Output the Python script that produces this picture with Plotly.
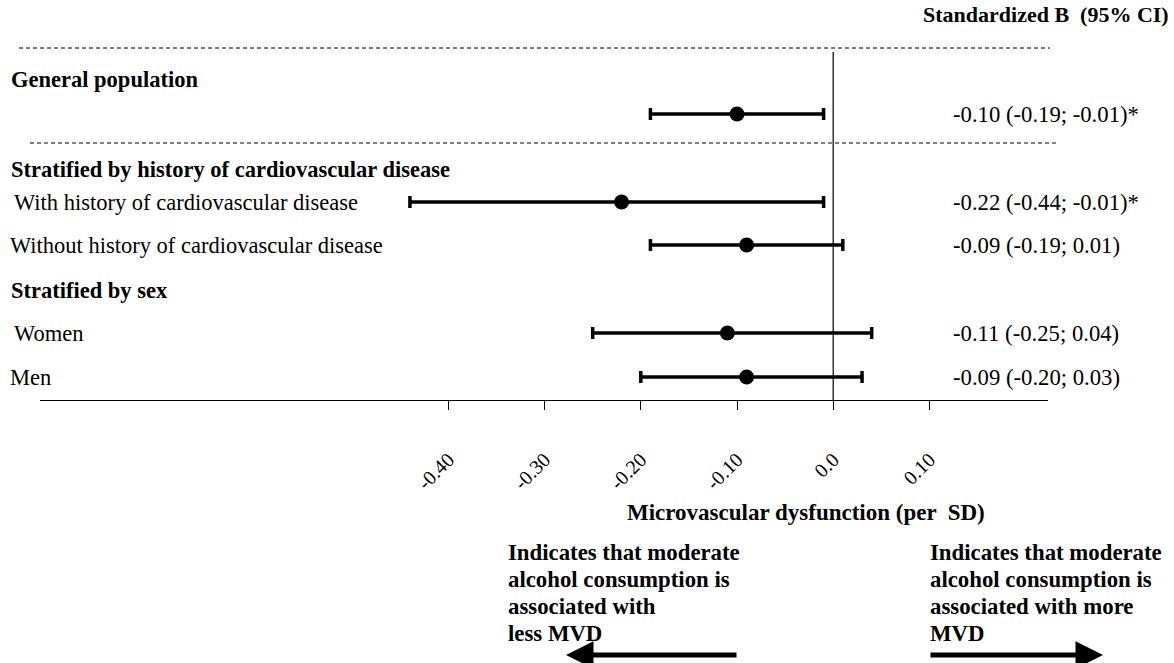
import plotly.graph_objects as go

# ---- data ----
row_labels = ["General population", "With history of cardiovascular disease",
              "Without history of cardiovascular disease", "Women", "Men"]
estimates = [-0.10, -0.22, -0.09, -0.11, -0.09]
ci_low = [-0.19, -0.44, -0.19, -0.25, -0.20]
ci_high = [-0.01, -0.01, 0.01, 0.04, 0.03]
ci_text = ["-0.10 (-0.19; -0.01)*", "-0.22 (-0.44; -0.01)*", "-0.09 (-0.19; 0.01)",
           "-0.11 (-0.25; 0.04)", "-0.09 (-0.20; 0.03)"]
row_pos = [114, 202, 245, 333, 377]          # vertical row positions (layout units)
row_label_x = [None, 12, 8, 12, 8]
headers = ["General population", "Stratified by history of cardiovascular disease", "Stratified by sex"]
header_pos = [80, 169, 290]
tick_vals = [-0.40, -0.30, -0.20, -0.10, 0.0, 0.10]
tick_text = ["-0.40", "-0.30", "-0.20", "-0.10", "0.0", "0.10"]
left_note = ["Indicates that moderate", "alcohol consumption is", "associated with", "less MVD"]
right_note = ["Indicates that moderate", "alcohol consumption is", "associated with more", "MVD"]

W, H = 1174, 663
L, R = 40, 1048          # plot area (pixels)
B = 400                  # axis line position (pixels)
PX_PER_UNIT = 962.0
ZERO_PX = 833.2
xmin = (L - ZERO_PX) / PX_PER_UNIT
xmax = (R - ZERO_PX) / PX_PER_UNIT
FONT = "Liberation Serif"


def px(xp):
    return (xp - L) / (R - L)


def py(yp):
    return (B - yp) / B


fig = go.Figure()
fig.add_trace(go.Scatter(
    x=estimates, y=row_pos, mode="markers",
    marker=dict(color="black", size=15),
    error_x=dict(type="data", symmetric=False,
                 array=[h - e for h, e in zip(ci_high, estimates)],
                 arrayminus=[e - l for l, e in zip(ci_low, estimates)],
                 color="black", thickness=3.5, width=6),
    showlegend=False, hoverinfo="skip", cliponaxis=False,
))

ann = []
ann.append(dict(text="<b>Standardized B  (95% CI)</b>", x=px(1171), y=py(15), xanchor="right",
                yanchor="middle", font=dict(size=22)))
for t, yy in zip(headers, header_pos):
    ann.append(dict(text="<b>%s</b>" % t, x=px(9), y=py(yy), xanchor="left", yanchor="middle",
                    font=dict(size=22.5)))
for lab, lx, yy in zip(row_labels, row_label_x, row_pos):
    if lx is None:
        continue
    ann.append(dict(text=lab, x=px(lx), y=py(yy), xanchor="left", yanchor="middle",
                    font=dict(size=22.5)))
for t, yy in zip(ci_text, row_pos):
    ann.append(dict(text=t, x=px(951), y=py(yy), xanchor="left", yanchor="middle",
                    font=dict(size=22.7)))
ann.append(dict(text="<b>Microvascular dysfunction (per  SD)</b>", x=px(806), y=py(512),
                xanchor="center", yanchor="middle", font=dict(size=23)))
note_y = [552, 579, 606, 633]
for t, yy in zip(left_note, note_y):
    ann.append(dict(text="<b>%s</b>" % t, x=px(506), y=py(yy), xanchor="left", yanchor="middle",
                    font=dict(size=22.8)))
for t, yy in zip(right_note, note_y):
    ann.append(dict(text="<b>%s</b>" % t, x=px(928), y=py(yy), xanchor="left", yanchor="middle",
                    font=dict(size=22.8)))
# arrows
ann.append(dict(text="", x=px(566), y=py(655), ax=172, ay=0, axref="pixel", ayref="pixel",
                showarrow=True, arrowhead=2, arrowwidth=5, arrowsize=1.1, arrowcolor="black"))
ann.append(dict(text="", x=px(1103), y=py(655), ax=-174, ay=0, axref="pixel", ayref="pixel",
                showarrow=True, arrowhead=2, arrowwidth=5, arrowsize=1.1, arrowcolor="black"))
for a in ann:
    a.setdefault("xref", "paper")
    a.setdefault("yref", "paper")
    a.setdefault("showarrow", False)

shapes = [
    dict(type="line", xref="paper", yref="paper", x0=px(19), x1=px(1050), y0=py(48), y1=py(48),
         line=dict(color="black", width=1, dash="4px,3px")),
    dict(type="line", xref="paper", yref="paper", x0=px(30), x1=px(1058), y0=py(143), y1=py(143),
         line=dict(color="black", width=1, dash="4px,3px")),
    dict(type="line", xref="x", yref="paper", x0=0, x1=0, y0=py(52), y1=py(B),
         line=dict(color="black", width=1.2)),
]

fig.update_layout(
    width=W, height=H,
    margin=dict(l=L, r=W - R, t=0, b=H - B, pad=0),
    plot_bgcolor="white", paper_bgcolor="white",
    font=dict(family=FONT, color="black", size=20),
    xaxis=dict(range=[xmin, xmax], tickvals=tick_vals, ticktext=tick_text, tickangle=-45,
               ticks="outside", ticklen=9, tickwidth=1.2, tickcolor="black",
               ticklabelstandoff=30,
               showline=True, linecolor="black", linewidth=1.2, showgrid=False, zeroline=False,
               tickfont=dict(size=20, family=FONT), fixedrange=True),
    yaxis=dict(range=[B, 0], visible=False, showgrid=False, zeroline=False, fixedrange=True),
    annotations=ann, shapes=shapes,
)

fig.write_html("out.html", config={"displayModeBar": False},
               post_script="document.body.style.margin='0';document.body.style.overflow='hidden';")
